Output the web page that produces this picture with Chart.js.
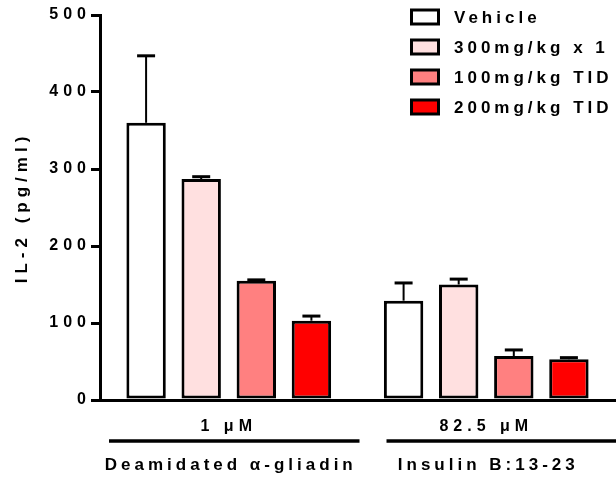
<!DOCTYPE html>
<html>
<head>
<meta charset="utf-8">
<script src="https://cdn.jsdelivr.net/npm/chart.js@4/dist/chart.umd.min.js"></script>
<style>
  html, body { margin: 0; padding: 0; background: #fff; }
  #wrap { width: 616px; height: 480px; }
</style>
</head>
<body>
<div id="wrap"><canvas id="il2Chart" width="616" height="480"></canvas></div>
<script>
// Data
const concentrations = ['1 μM', '82.5 μM'];
const peptides = ['Deamidated α-gliadin', 'Insulin B:13-23'];
const treatments = ['Vehicle', '300mg/kg x 1', '100mg/kg TID', '200mg/kg TID'];

const vehicle = [360, 129];
const vehicleErr = [87, 23];
const dose300x1 = [287, 150];
const dose300x1Err = [3, 7];
const dose100tid = [155, 57];
const dose100tidErr = [1, 8];
const dose200tid = [103, 53];
const dose200tidErr = [6, 2];

const yMin = 0;
const yMax = 500;
const yStep = 100;

// Styles
const FONT = "'Liberation Sans', Arial, sans-serif";
const SPACING = '5px';       // axis text
const LABEL_SPACING = '4px'; // legend + peptide names
const fills = ['#ffffff', '#ffe0e0', '#ff8080', '#ff0000'];

Chart.defaults.font.family = FONT;
Chart.defaults.font.size = 16;
Chart.defaults.font.weight = 'bold';
Chart.defaults.color = '#000';

// GraphPad-style wide lettering
const spacingPlugin = {
    id: 'spacing',
    beforeUpdate(chart) { chart.ctx.letterSpacing = SPACING; },
    beforeDraw(chart) { chart.ctx.letterSpacing = SPACING; }
};

// Upward-only error bars
const errorBarPlugin = {
    id: 'errorBars',
    afterDatasetsDraw(chart) {
        const ctx = chart.ctx;
        const y = chart.scales.y;
        ctx.save();
        ctx.strokeStyle = '#000';
        chart.data.datasets.forEach((ds, i) => {
            chart.getDatasetMeta(i).data.forEach((bar, j) => {
                const top = y.getPixelForValue(ds.data[j] + ds.errors[j]);
                ctx.lineWidth = 2;
                ctx.beginPath();
                ctx.moveTo(bar.x, bar.y);
                ctx.lineTo(bar.x, top);
                ctx.stroke();
                ctx.lineWidth = 3;
                ctx.beginPath();
                ctx.moveTo(bar.x - 9, top);
                ctx.lineTo(bar.x + 9, top);
                ctx.stroke();
            });
        });
        ctx.restore();
    }
};

// Legend boxes in the top right corner
const boxLegendPlugin = {
    id: 'boxLegend',
    afterDraw(chart) {
        const ctx = chart.ctx;
        ctx.save();
        ctx.font = 'bold 17px ' + FONT;
        ctx.letterSpacing = LABEL_SPACING;
        ctx.textBaseline = 'middle';
        ctx.textAlign = 'left';
        chart.data.datasets.forEach((ds, i) => {
            const cy = 17 + i * 30;
            ctx.fillStyle = ds.backgroundColor;
            ctx.fillRect(411.5, cy - 7, 27, 14);
            ctx.lineWidth = 3;
            ctx.strokeStyle = '#000';
            ctx.strokeRect(411.5, cy - 7, 27, 14);
            ctx.fillStyle = '#000';
            ctx.fillText(ds.label, 454, cy + 1);
        });
        ctx.restore();
    }
};

// Underline + peptide name under each concentration label
const groupPlugin = {
    id: 'groups',
    afterDraw(chart) {
        const ctx = chart.ctx;
        const x = chart.scales.x;
        const half = (x.getPixelForValue(1) - x.getPixelForValue(0)) / 2;
        const startInset = [9, 29];
        ctx.save();
        ctx.strokeStyle = '#000';
        ctx.lineWidth = 3.5;
        ctx.fillStyle = '#000';
        ctx.font = 'bold 17px ' + FONT;
        ctx.letterSpacing = LABEL_SPACING;
        ctx.textAlign = 'center';
        ctx.textBaseline = 'middle';
        peptides.forEach((name, i) => {
            const c = x.getPixelForValue(i);
            ctx.beginPath();
            ctx.moveTo(c - half + startInset[i], 441);
            ctx.lineTo(c + half + 2, 441);
            ctx.stroke();
            ctx.fillText(name, c + 2, 465);
        });
        ctx.restore();
    }
};

const datasets = [
    { data: vehicle, errors: vehicleErr },
    { data: dose300x1, errors: dose300x1Err },
    { data: dose100tid, errors: dose100tidErr },
    { data: dose200tid, errors: dose200tidErr }
].map((d, i) => ({
    label: treatments[i],
    data: d.data,
    errors: d.errors,
    backgroundColor: fills[i],
    borderColor: '#000',
    borderWidth: 3,
    borderSkipped: false,
    barPercentage: 0.715,
    categoryPercentage: 0.856
}));

const ctx = document.getElementById('il2Chart').getContext('2d');
const chart = new Chart(ctx, {
    type: 'bar',
    data: { labels: concentrations, datasets: datasets },
    options: {
        responsive: false,
        animation: false,
        layout: { padding: { top: 15, right: 1, left: 0, bottom: 0 } },
        plugins: {
            legend: { display: false },
            tooltip: { enabled: false }
        },
        scales: {
            x: {
                grid: { display: false, drawTicks: false },
                border: { display: true, color: '#000', width: 3 },
                ticks: { padding: 17, font: { size: 16, weight: 'bold' } },
                afterFit(scale) { scale.height = 80; }
            },
            y: {
                min: yMin,
                max: yMax,
                ticks: { stepSize: yStep, padding: 0, font: { size: 16, weight: 'bold' } },
                grid: {
                    display: true,
                    drawOnChartArea: false,
                    drawTicks: true,
                    tickLength: 9,
                    lineWidth: 3,
                    color: '#000'
                },
                border: { display: true, color: '#000', width: 3 },
                title: {
                    display: true,
                    text: 'IL-2 (pg/ml)',
                    font: { size: 17, weight: 'bold' },
                    padding: { top: 12, bottom: 0 }
                },
                afterFit(scale) { scale.width = 100; }
            }
        }
    },
    plugins: [spacingPlugin, errorBarPlugin, boxLegendPlugin, groupPlugin]
});
</script>
</body>
</html>
